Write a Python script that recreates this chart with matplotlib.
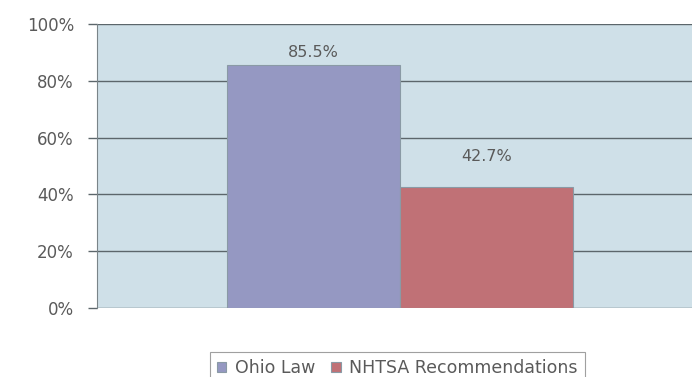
import matplotlib.pyplot as plt
import numpy as np

series = ["Ohio Law", "NHTSA Recommendations"]
values = [85.5, 42.7]
colors = ["#9598c2", "#c07176"]
yticks = [0, 20, 40, 60, 80, 100]
label_offsets = [13, 30]   # gap in px between bar top and label centre

plt.rcParams["font.family"] = ["DejaVu Sans"]

fig = plt.figure(figsize=(6.92, 3.77), dpi=100)
ax = fig.add_axes([0.140, 0.183, 0.860, 0.753])
ax.set_facecolor("#cfe0e8")

x = np.array([-0.5, 0.5])
bars = ax.bar(x, values, width=1.0, color=colors, edgecolor="#8a9aa5",
              linewidth=0.8, label=series, zorder=3)

for b, v, off in zip(bars, values, label_offsets):
    ax.annotate(f"{v}%", (b.get_x() + b.get_width() / 2, v),
                xytext=(0, off * 0.72), textcoords="offset points",
                ha="center", va="center", fontsize=11.5, color="#5a5a5a")

ax.set_ylim(0, 100)
ax.set_xlim(-1.751, 1.688)
ax.set_yticks(yticks)
ax.set_yticklabels([f"{t}%" for t in yticks], fontsize=12, color="#5a5a5a")
ax.set_xticks([])
ax.yaxis.grid(True, color="#5c666b", linewidth=1.0, zorder=1)
ax.tick_params(axis="y", length=6.5, width=1.0, color="#5c666b", pad=10)
for s in ["top", "right", "bottom"]:
    ax.spines[s].set_visible(False)
ax.spines["left"].set_color("#7a8488")

leg = fig.legend(handles=list(bars), labels=series, loc="upper center",
                 bbox_to_anchor=(0.574, 0.066), ncol=2, fontsize=12.5,
                 frameon=True, fancybox=False, handlelength=0.55,
                 handleheight=0.55, handletextpad=0.5, columnspacing=0.9,
                 borderpad=0.4, borderaxespad=0, labelcolor="#5a5a5a")
leg.get_frame().set_edgecolor("#888888")
leg.get_frame().set_linewidth(0.8)

fig.savefig("out.png", dpi=100)
